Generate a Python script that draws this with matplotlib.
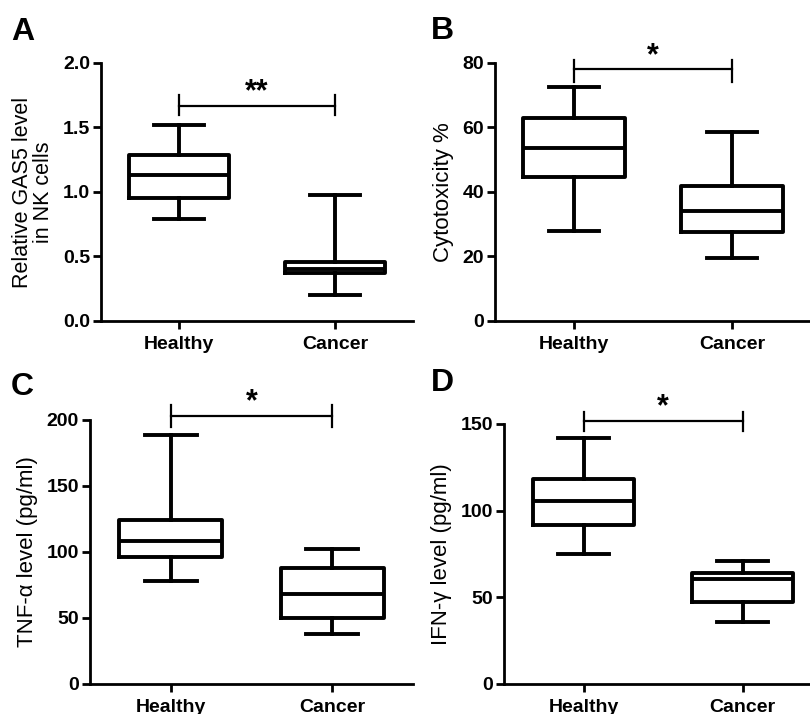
import matplotlib
matplotlib.use("Agg")
import matplotlib.pyplot as plt

plt.rcParams['font.family'] = ['Liberation Sans', 'DejaVu Sans']

categories = ["Healthy", "Cancer"]

# [whisker low, Q1, median, Q3, whisker high]
gas5_healthy = [0.79, 0.95, 1.13, 1.29, 1.52]
gas5_cancer = [0.20, 0.37, 0.40, 0.46, 0.98]
cyto_healthy = [28, 44.5, 53.5, 63, 72.5]
cyto_cancer = [19.5, 27.5, 34, 42, 58.5]
tnf_healthy = [78, 96, 108, 124, 189]
tnf_cancer = [38, 50, 68, 88, 102]
ifn_healthy = [75, 91.5, 105.5, 118, 142]
ifn_cancer = [36, 47.5, 60.5, 64, 71]

panels = [
    dict(letter="A", data=[gas5_healthy, gas5_cancer], ylabel="Relative GAS5 level\nin NK cells", yfs=15.5,
         ylim=2.0, yticks=[0.0, 0.5, 1.0, 1.5, 2.0], fmt="{:.1f}", sig=1.67, sigh=(1.6, 1.75), star="**",
         rect=[101/810, 1-321/714, 312/810, 258/714]),
    dict(letter="B", data=[cyto_healthy, cyto_cancer], ylabel="Cytotoxicity %", yfs=16,
         ylim=80, yticks=[0, 20, 40, 60, 80], fmt="{:.0f}", sig=78, sigh=(74, 81), star="*",
         rect=[495/810, 1-321/714, 316/810, 258/714]),
    dict(letter="C", data=[tnf_healthy, tnf_cancer], ylabel="TNF-\u03b1 level (pg/ml)", yfs=16,
         ylim=200, yticks=[0, 50, 100, 150, 200], fmt="{:.0f}", sig=203, sigh=(195, 211), star="*",
         rect=[90/810, 1-684/714, 323/810, 264/714]),
    dict(letter="D", data=[ifn_healthy, ifn_cancer], ylabel="IFN-\u03b3 level (pg/ml)", yfs=16,
         ylim=150, yticks=[0, 50, 100, 150], fmt="{:.0f}", sig=152, sigh=(146, 157), star="*",
         rect=[504/810, 1-684/714, 318/810, 260/714]),
]

fig = plt.figure(figsize=(8.1, 7.14), dpi=100)
letter_pos = {"A": (11/810, 1-32/714), "B": (431/810, 1-31/714),
              "C": (11/810, 1-387/714), "D": (431/810, 1-383/714)}

for p in panels:
    ax = fig.add_axes(p["rect"])
    stats = []
    for d in p["data"]:
        stats.append(dict(whislo=d[0], q1=d[1], med=d[2], q3=d[3], whishi=d[4], fliers=[]))
    lw = 2.8
    ax.bxp(stats, positions=[0, 1], widths=0.64, showfliers=False, capwidths=0.32,
           boxprops=dict(color="black", linewidth=lw),
           whiskerprops=dict(color="black", linewidth=lw),
           capprops=dict(color="black", linewidth=lw),
           medianprops=dict(color="black", linewidth=lw))
    ax.set_xlim(-0.5, 1.5)
    ax.set_ylim(0, p["ylim"])
    ax.set_xticks([0, 1])
    ax.set_xticklabels(categories, fontsize=14, fontweight="bold")
    ax.set_yticks(p["yticks"])
    ax.set_yticklabels([p["fmt"].format(v) for v in p["yticks"]], fontsize=14, fontweight="bold")
    for s in ["top", "right"]:
        ax.spines[s].set_visible(False)
    for s in ["left", "bottom"]:
        ax.spines[s].set_linewidth(2.0)
    ax.tick_params(axis="both", width=2.0, length=6, direction="out")
    ax.tick_params(axis="x", pad=5)
    ax.tick_params(axis="y", pad=2)
    ax.set_ylabel(p["ylabel"], fontsize=p["yfs"], labelpad=6, linespacing=1.05)
    # significance bracket
    ax.plot([0, 1], [p["sig"], p["sig"]], color="black", linewidth=1.6, clip_on=False)
    for xx in [0, 1]:
        ax.plot([xx, xx], list(p["sigh"]), color="black", linewidth=1.6, clip_on=False)
    ax.annotate(p["star"], xy=(0.5, p["sig"]), xytext=(0, -1), textcoords="offset points",
                ha="center", va="bottom", fontsize=22, fontweight="bold", annotation_clip=False)
    fig.text(*letter_pos[p["letter"]], p["letter"], fontsize=23, fontweight="bold", ha="left", va="center")

fig.savefig("out.png", dpi=100)
